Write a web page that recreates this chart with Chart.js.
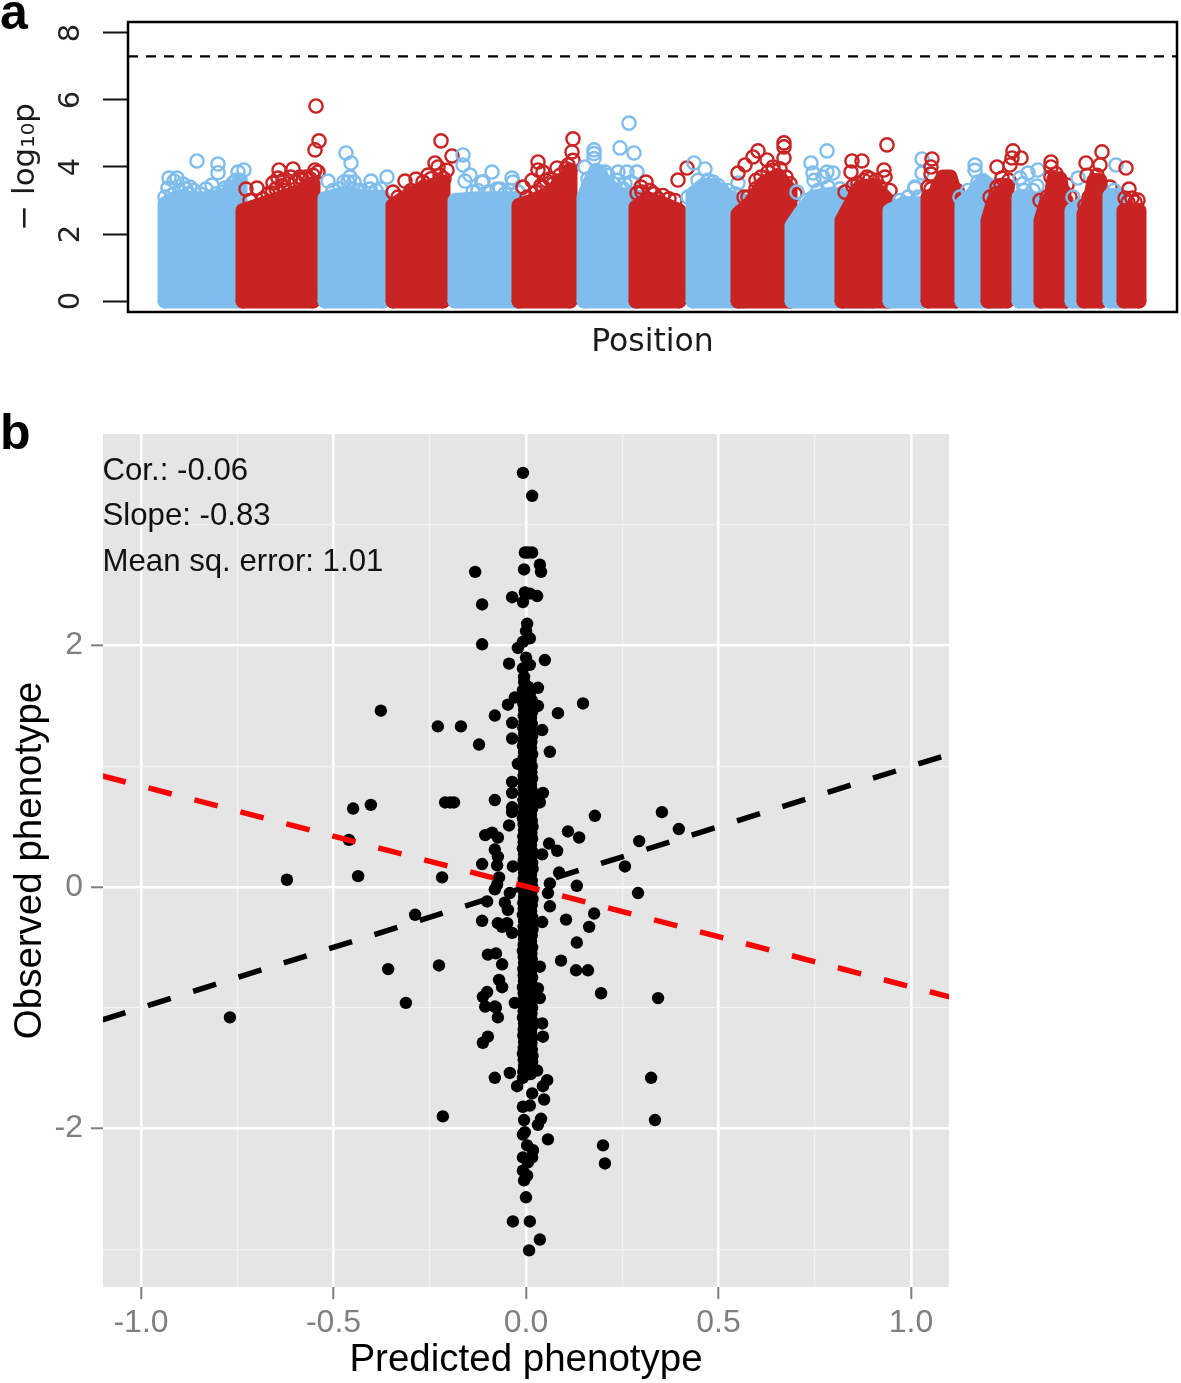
<!DOCTYPE html>
<html><head><meta charset="utf-8">
<style>html,body{margin:0;padding:0;background:#fff;width:1181px;height:1383px;overflow:hidden}
canvas{position:absolute;left:0;display:block}</style>
<script src="https://cdn.jsdelivr.net/npm/chart.js@4"></script>
</head><body>
<canvas id="ca" width="1181" height="380" style="top:0"></canvas>
<canvas id="cb" width="1000" height="983" style="top:400px"></canvas>
<script>
// ---- panel a: Manhattan plot ----
const manhattanTicks = [0, 2, 4, 6, 8];
const genomeWideLine = 7.3;
// upper envelope of the solid mass of each chromosome: [position, -log10p]
const chrEnvelopes = [
 [[37,2.9],[50,3.1],[70,3.05],[90,3.05],[100,3.2],[112,3.55]],
 [[115,2.7],[130,2.85],[150,3.05],[165,3.2],[178,3.35],[185,3.5]],
 [[197,3.05],[215,3.2],[235,3.1],[255,3.1]],
 [[265,2.85],[275,3.05],[290,3.3],[305,3.45],[315,3.55]],
 [[327,3.0],[350,3.05],[370,3.05],[390,3.05]],
 [[391,2.85],[405,3.0],[420,3.2],[432,3.5],[442,3.85]],
 [[456,3.1],[462,3.55],[468,3.9],[476,3.6],[490,3.2],[510,3.1]],
 [[508,2.8],[520,3.05],[535,2.9],[551,2.7]],
 [[565,3.2],[575,3.45],[585,3.45],[600,3.1],[615,3.0]],
 [[610,2.6],[622,2.9],[635,3.5],[650,3.75],[662,3.3]],
 [[664,2.25],[672,2.6],[685,3.1],[705,3.2],[725,3.1],[745,3.05]],
 [[714,2.4],[722,2.85],[732,3.4],[745,3.45],[760,3.0]],
 [[762,2.7],[775,2.9],[795,2.9]],
 [[800,3.1],[807,3.2],[815,3.7],[822,3.7],[828,3.1]],
 [[834,2.9],[845,3.2],[855,3.6],[865,3.3],[873,3.2]],
 [[860,2.4],[866,3.0],[875,3.3],[879,3.45]],
 [[891,3.1],[900,3.1],[912,3.0]],
 [[913,2.4],[918,2.9],[923,3.1],[926,3.65],[932,3.65],[935,3.05],[938,3.0]],
 [[944,2.7],[952,2.85]],
 [[956,2.6],[962,2.95],[966,3.6],[972,3.6],[973,3.0]],
 [[982,3.15],[992,3.15]],
 [[996,2.7],[1011,2.7]]
];
// individually visible SNPs above the mass
const chrPeaks = [
 [[69,4.18],[90,4.09],[90,3.83],[110,3.85],[116,3.91],[41,3.67],[49,3.67],[46,3.58],[62,3.4],[84,3.46],[78,3.34],[37,3.1],[40,3.37],[97,3.37],[105,3.52],[55,3.49],[44,3.16],[52,3.25],[60,3.2],[66,3.3],[72,3.2],[88,3.2],[95,3.25],[102,3.4],[108,3.6],[112,3.6],[58,3.35]],
 [[188,5.82],[191,4.78],[187,4.51],[151,3.91],[165,3.94],[187,3.91],[190,3.85],[118,3.34],[129,3.37],[145,3.52],[150,3.67],[172,3.7],[144,3.22],[157,3.3],[179,3.43],[122,3.0],[135,3.05],[140,3.2],[148,3.35],[155,3.45],[160,3.5],[168,3.55],[175,3.6],[182,3.65],[178,3.7],[155,3.6],[163,3.7],[185,3.75]],
 [[218,4.42],[223,4.12],[200,3.58],[222,3.7],[243,3.58],[259,3.7],[220,3.55],[242,3.34],[229,3.3],[205,3.3],[212,3.35],[225,3.35],[232,3.3],[248,3.3],[253,3.35],[216,3.55],[226,3.55]],
 [[313,4.78],[324,4.33],[277,3.58],[265,3.25],[307,4.12],[310,4.0],[288,3.64],[300,3.76],[319,3.9],[270,3.1],[283,3.3],[295,3.55],[303,3.65],[312,3.75],[296,3.4],[316,3.65]],
 [[335,4.36],[335,4.06],[342,3.76],[364,3.85],[337,3.58],[354,3.55],[369,3.34],[384,3.67],[385,3.55],[372,3.34],[355,3.55],[345,3.25],[350,3.3],[360,3.25],[377,3.2],[382,3.3],[390,3.25]],
 [[445,4.84],[444,4.45],[410,4.15],[410,3.91],[395,3.4],[429,3.97],[440,4.06],[415,3.85],[445,4.2],[422,3.64],[404,3.6],[399,3.1],[408,3.25],[415,3.4],[425,3.5],[432,3.75],[438,3.95],[442,3.9],[418,3.6],[413,3.45]],
 [[501,5.31],[492,4.57],[506,4.42],[466,4.51],[466,4.4],[466,4.25],[490,3.85],[509,3.85],[499,3.85],[489,3.6],[457,4.0],[477,3.85],[460,3.65],[472,3.85],[480,3.75],[485,3.5],[497,3.5],[503,3.55],[495,3.35]],
 [[518,3.55],[550,3.61],[559,3.97],[509,3.22],[522,3.3],[535,3.15],[547,3.0],[514,3.25],[526,3.2],[530,3.05],[541,3.05],[513,3.4]],
 [[566,4.12],[577,3.94],[594,3.3],[610,3.52],[560,3.1],[585,3.55],[570,3.6],[580,3.6],[590,3.45],[600,3.3],[607,3.2]],
 [[656,4.72],[656,4.6],[656,4.27],[630,4.48],[617,4.06],[610,3.82],[625,4.3],[639,4.21],[628,3.6],[616,3.1],[667,3.2],[645,4.0],[620,3.1],[628,3.35],[633,3.7],[640,3.85],[645,3.9],[652,3.95],[658,3.7],[662,3.5],[638,3.55]],
 [[669,3.25],[699,4.48],[683,4.12],[685,3.82],[686,3.6],[699,3.85],[705,3.82],[695,3.7],[678,3.0],[690,3.3],[700,3.4],[712,3.35],[720,3.3],[730,3.25]],
 [[759,4.66],[724,4.18],[734,4.18],[723,3.85],[756,3.91],[717,3.25],[725,3.43],[739,3.7],[757,3.7],[762,3.3],[728,3.2],[736,3.6],[742,3.65],[748,3.6],[752,3.4],[730,3.5]],
 [[787,3.37],[772,3.0],[794,4.24],[794,3.82],[787,3.4],[780,3.1],[790,3.1]],
 [[804,4.24],[803,4.0],[803,3.79],[800,3.4],[819,3.6],[829,3.3],[810,3.4],[803,3.35],[812,3.5],[826,3.3]],
 [[847,4.06],[847,3.9],[832,3.1],[858,3.4],[840,3.3],[850,3.55],[862,3.45],[870,3.45]],
 [[885,4.48],[893,4.27],[884,4.27],[869,4.0],[882,4.06],[874,3.67],[869,3.4],[879,3.4],[862,3.1],[868,3.2],[873,3.45],[881,3.6]],
 [[910,3.91],[900,3.82],[892,3.67],[896,3.3],[909,3.43],[905,3.3],[895,3.5]],
 [[923,4.15],[923,4.0],[939,3.46],[912,3.0],[923,3.7],[942,3.1],[919,3.1],[928,3.8],[936,3.25]],
 [[950,3.67],[945,3.1]],
 [[958,4.12],[974,4.45],[972,4.06],[957,2.85],[959,3.75],[982,3.4],[961,3.1],[969,3.75]],
 [[988,4.06],[986,3.3]],
 [[998,3.97],[1001,3.34],[997,3.07],[1010,3.01],[1004,3.07],[1000,2.95],[1007,2.95]]
];
// ---- panel b: predicted vs observed ----
const scatterXTicks = [-1, -0.75, -0.5, -0.25, 0, 0.25, 0.5, 0.75, 1];
const scatterYTicks = [-3, -2, -1, 0, 1, 2, 3];
const outerPoints = [
[-.008,3.43],[.016,3.24],[-.003,2.77],[.005,2.77],[.016,2.77],[.036,2.67],[.039,2.61],[-.005,2.63],[-.132,2.61],[-.114,2.34],
[-.036,2.40],[-.003,2.44],[-.008,2.36],[.010,2.43],[.029,2.41],[.003,2.18],[0,2.12],[.010,2.06],[-.008,2.03],[-.114,2.01],
[-.021,1.98],[0,1.90],[.049,1.88],[-.044,1.85],[.010,1.84],[-.008,1.81],[-.005,1.74],[-.005,1.70],[.031,1.65],[.005,1.66],
[-.008,1.63],[.148,1.52],[.083,1.44],[-.081,1.42],[-.047,1.51],[-.029,1.57],[.031,1.50],[.018,1.52],[-.229,1.33],[-.169,1.33],
[-.036,1.36],[.042,1.30],[-.122,1.18],[-.036,1.23],[.062,1.12],[-.021,1.02],[-.036,.87],[-.036,.78],[.044,.78],[.036,.70],
[-.210,.70],[-.197,.70],[-.187,.70],[-.081,.72],[-.036,.66],[-.036,.62],[.179,.59],[.353,.62],[.397,.48],[.294,.38],
[.109,.46],[.138,.41],[-.044,.51],[-.106,.43],[-.088,.45],[-.073,.41],[-.081,.31],[-.073,.25],[-.075,.18],[-.114,.19],
[.060,.36],[.081,.30],[.042,.27],[-.034,.17],[.086,.12],[-.218,.08],[-.070,.08],[-.075,.02],[-.081,-.02],[.132,.01],
[.062,.03],[.057,-.05],[.257,.17],[.291,-.05],[-.042,-.05],[-.101,-.12],[-.055,-.13],[-.047,-.19],[.062,-.16],[-.288,-.23],
[.177,-.22],[.104,-.27],[.164,-.33],[-.114,-.28],[-.073,-.30],[-.062,-.33],[-.049,-.30],[.042,-.29],[-.036,-.38],[.132,-.46],
[-.099,-.56],[-.078,-.55],[-.062,-.64],[-.226,-.65],[.091,-.61],[.130,-.69],[.161,-.69],[.036,-.66],[-.070,-.77],[-.062,-.83],
[.195,-.88],[.343,-.92],[-.101,-.87],[-.112,-.91],[-.312,-.96],[.036,-.92],[.031,-.84],[-.029,-.96],[-.081,-.99],[-.106,-.99],
[-.078,-1.00],[-.073,-1.08],[.042,-1.13],[.044,-1.24],[-.099,-1.24],[-.112,-1.29],[-.042,-1.54],[-.081,-1.58],[.325,-1.58],[.055,-1.60],
[.044,-1.65],[-.023,-1.65],[.029,-1.52],[-.008,-1.58],[.016,-1.71],[.047,-1.76],[.010,-1.81],[-.008,-1.82],[-.216,-1.90],[.335,-1.93],
[-.005,-1.93],[.039,-1.92],[.031,-1.97],[-.003,-2.03],[-.008,-2.05],[.057,-2.09],[.200,-2.14],[.205,-2.29],[.003,-2.14],[.018,-2.18],
[.016,-2.24],[-.008,-2.24],[.005,-2.28],[-.008,-2.35],[.003,-2.39],[-.005,-2.43],[0,-2.57],[-.034,-2.77],[.010,-2.77],[.036,-2.92],
[.008,-3.01],[-.377,1.46],[-.449,.65],[-.403,.68],[-.460,.39],[-.436,.09],[-.621,.06],[-.769,-1.08],[-.358,-.68]
];
const columnLeft = [
[-.006,1.62],[-.005,1.57],[-.007,1.52],[-.005,1.47],[-.006,1.42],[-.004,1.37],[-.007,1.32],[-.005,1.27],[-.006,1.22],[-.008,1.17],
[-.005,1.12],[-.006,1.07],[-.007,1.02],[-.005,.97],[-.006,.92],[-.008,.87],[-.006,.82],[-.005,.77],[-.007,.72],[-.006,.67],
[-.005,.62],[-.008,.57],[-.006,.52],[-.005,.47],[-.007,.42],[-.006,.37],[-.008,.32],[-.005,.27],[-.006,.22],[-.007,.17],
[-.005,.12],[-.006,.07],[-.008,.02],[-.006,-.03],[-.005,-.08],[-.007,-.13],[-.006,-.18],[-.008,-.23],[-.005,-.28],[-.006,-.33],
[-.007,-.38],[-.005,-.43],[-.006,-.48],[-.008,-.53],[-.006,-.58],[-.005,-.63],[-.007,-.68],[-.006,-.73],[-.005,-.78],[-.008,-.83],
[-.006,-.88],[-.005,-.93],[-.007,-.98],[-.006,-1.03],[-.008,-1.08],[-.005,-1.13],[-.006,-1.18],[-.007,-1.23],[-.005,-1.28],[-.006,-1.33],
[-.008,-1.38],[-.006,-1.43],[-.005,-1.48],[-.007,-1.53]
];
const columnRight = [
[.010,1.60],[.014,1.55],[.012,1.50],[.016,1.45],[.013,1.40],[.015,1.35],[.012,1.30],[.016,1.25],[.014,1.20],[.013,1.15],
[.016,1.10],[.012,1.05],[.015,1.00],[.014,.95],[.016,.90],[.013,.85],[.015,.80],[.017,.75],[.014,.70],[.016,.65],
[.013,.60],[.015,.55],[.017,.50],[.014,.45],[.016,.40],[.013,.35],[.015,.30],[.014,.25],[.016,.20],[.017,.15],
[.013,.10],[.015,.05],[.016,0],[.014,-.05],[.017,-.10],[.015,-.15],[.013,-.20],[.016,-.25],[.014,-.30],[.017,-.35],
[.015,-.40],[.013,-.45],[.016,-.50],[.014,-.55],[.015,-.60],[.017,-.65],[.013,-.70],[.016,-.75],[.014,-.80],[.015,-.85],
[.017,-.90],[.013,-.95],[.016,-1.00],[.014,-1.05],[.015,-1.10],[.017,-1.15],[.013,-1.20],[.016,-1.25],[.014,-1.30],[.015,-1.35],
[.017,-1.40],[.016,-1.45],[.014,-1.50],[.012,-1.55]
];
const identityLine = [[-1.1,-1.1],[1.09,1.09]];
const fittedLine = [[-1.1,0.92],[1.1,-0.91]];
const statTexts = ["Cor.: -0.06", "Slope: -0.83", "Mean sq. error: 1.01"];
const statLevels = [3.44, 3.07, 2.69];

const toXY = a => a.map(p => ({x:p[0], y:p[1]}));
const BLUE = '#7EBDEC', RED = '#C92424';

// panel a datasets
const aSets = [];
chrEnvelopes.forEach((env, i) => {
  const c = i % 2 ? RED : BLUE;
  const first = env[0][0], last = env[env.length-1][0];
  aSets.push({data:toXY([[first,0], ...env, [last,0]]), showLine:true, borderColor:c, backgroundColor:c, borderWidth:15,
    borderJoinStyle:'round', borderCapStyle:'round', pointRadius:0, tension:0, fill:'origin', order:300-3*i});
  aSets.push({data:toXY([[first,0],[last,0]]), showLine:true, borderColor:c, borderWidth:15,
    borderCapStyle:'round', pointRadius:0, fill:false, order:299-3*i});
  aSets.push({data:toXY(chrPeaks[i]), showLine:false, pointRadius:6.6, pointBorderWidth:2.4,
    pointBorderColor:c, pointBackgroundColor:'rgba(0,0,0,0)', order:298-3*i});
});
aSets.push({data:[{x:0,y:genomeWideLine},{x:1049,y:genomeWideLine}], showLine:true, pointRadius:0,
  borderColor:'#000', borderWidth:2.2, borderDash:[10,8], fill:false, order:0});

const boxPlugin = {id:'box', afterDraw(ch){
  const {ctx, chartArea:a} = ch; ctx.save(); ctx.strokeStyle='#000'; ctx.lineWidth=2.5;
  ctx.strokeRect(a.left,a.top,a.right-a.left,a.bottom-a.top);
  ctx.fillStyle='#000'; ctx.font='bold 50px "Liberation Sans"'; ctx.textBaseline='alphabetic'; ctx.textAlign='left';
  ctx.fillText('a',0,29); ctx.restore();
}};
new Chart(document.getElementById('ca'), {type:'scatter', plugins:[boxPlugin],
  data:{datasets:aSets},
  options:{responsive:false, animation:false, devicePixelRatio:1,
    layout:{autoPadding:false,padding:{top:22,right:4,left:0,bottom:0}},
    plugins:{legend:{display:false},tooltip:{enabled:false}},
    scales:{
      x:{type:'linear',min:0,max:1049,grid:{display:false},border:{display:false},
         ticks:{display:false},
         title:{display:true,text:'Position',font:{family:'"DejaVu Sans"',size:31.5},color:'#1a1a1a',padding:{top:0,bottom:18}},
         afterFit(s){s.height=68;}},
      y:{type:'linear',min:-0.328,max:8.328,border:{display:false},
         grid:{drawOnChartArea:false,drawTicks:true,tickLength:25,tickColor:'#111',tickWidth:2},
         afterBuildTicks(s){s.ticks=manhattanTicks.map(v=>({value:v}));},
         afterFit(s){s.width=128;s.paddingTop=0;s.paddingBottom=0;s.paddingLeft=0;s.paddingRight=0;},
         ticks:{minRotation:90,maxRotation:90,crossAlign:'center',padding:22,autoSkip:false,
           font:{family:'"DejaVu Sans"',size:29},color:'#222'},
         title:{display:true,text:'\u2212 log\u2081\u2080p',font:{family:'"DejaVu Sans"',size:31},color:'#1a1a1a',padding:{top:7,bottom:0}}}
    }}});

// panel b
const isMajorX = v => Math.abs(v*2-Math.round(v*2))<1e-6;
const isMajorY = v => Math.abs(v%2)<1e-6;
const gridOpts = major => ({
  color:c=>major(c.tick.value)?'#ffffff':'#f2f2f2',
  lineWidth:c=>major(c.tick.value)?2.6:1.3,
  tickLength:12,
  tickWidth:c=>major(c.tick.value)?2:0,
  tickColor:c=>major(c.tick.value)?'#7f7f7f':'rgba(0,0,0,0)'
});
const bgPlugin = {id:'bg', beforeDraw(ch){
  const {ctx, chartArea:a} = ch; ctx.save(); ctx.fillStyle='#E5E5E5';
  ctx.fillRect(a.left,a.top,a.right-a.left,a.bottom-a.top); ctx.restore();
}, afterDraw(ch){
  const {ctx, scales:{x,y}} = ch; ctx.save(); ctx.fillStyle='#111';
  ctx.font='31.2px "Liberation Sans"'; ctx.textBaseline='middle'; ctx.textAlign='left';
  statTexts.forEach((t,i)=>ctx.fillText(t,x.getPixelForValue(-1.1),y.getPixelForValue(statLevels[i])));
  ctx.fillStyle='#000'; ctx.font='bold 50px "Liberation Sans"'; ctx.textBaseline='alphabetic';
  ctx.fillText('b',0,49); ctx.restore();
}};
new Chart(document.getElementById('cb'), {type:'scatter', plugins:[bgPlugin],
  data:{datasets:[
    {data:toXY(fittedLine),showLine:true,pointRadius:0,borderColor:'#FF0000',borderWidth:5.5,borderDash:[24,23.5],order:0},
    {data:toXY(identityLine),showLine:true,pointRadius:0,borderColor:'#000',borderWidth:5.5,borderDash:[24,23.5],order:1},
    {data:toXY(outerPoints),showLine:false,pointRadius:6.2,pointBorderWidth:0,pointBackgroundColor:'#000',order:2},
    {data:toXY(columnLeft),showLine:false,pointRadius:6.2,pointBorderWidth:0,pointBackgroundColor:'#000',order:3},
    {data:toXY(columnRight),showLine:false,pointRadius:6.2,pointBorderWidth:0,pointBackgroundColor:'#000',order:4}
  ]},
  options:{responsive:false, animation:false, devicePixelRatio:1,
    layout:{padding:{top:34,right:51,left:0,bottom:0}},
    plugins:{legend:{display:false},tooltip:{enabled:false}},
    scales:{
      x:{type:'linear',min:-1.0987,max:1.0987,border:{display:false},grid:gridOpts(isMajorX),
         afterBuildTicks(s){s.ticks=scatterXTicks.map(v=>({value:v}));},
         afterFit(s){s.height=96;},
         ticks:{autoSkip:false,maxRotation:0,padding:5,font:{family:'"Liberation Sans"',size:32},color:'#7f7f7f',
           callback:v=>isMajorX(v)?v.toFixed(1):''},
         title:{display:true,text:'Predicted phenotype',font:{family:'"Liberation Sans"',size:38.5},color:'#000',padding:{top:0,bottom:0}}},
      y:{type:'linear',min:-3.313,max:3.752,border:{display:false},grid:gridOpts(isMajorY),
         afterBuildTicks(s){s.ticks=scatterYTicks.map(v=>({value:v}));},
         afterFit(s){s.width=103;},
         ticks:{autoSkip:false,padding:8,font:{family:'"Liberation Sans"',size:32},color:'#7f7f7f',
           callback:v=>isMajorY(v)?String(v):''},
         title:{display:true,text:'Observed phenotype',font:{family:'"Liberation Sans"',size:38.5},color:'#000',padding:{top:7,bottom:0}}}
    }}});
</script>
</body></html>
